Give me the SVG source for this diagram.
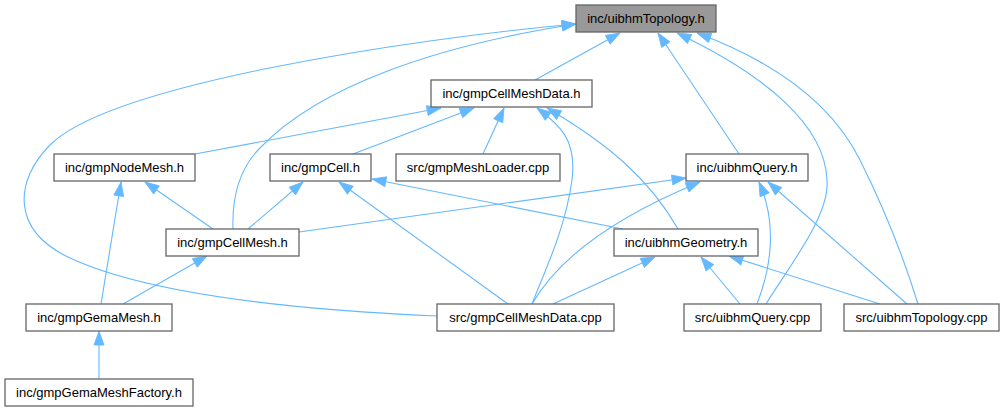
<svg xmlns="http://www.w3.org/2000/svg" width="1005" height="411" viewBox="0 0 1005 411">
<style>
.n rect{fill:#ffffff;stroke:#666666;stroke-width:1.3}
.n.hl rect{fill:#999999}
.n text{font-family:"Liberation Sans",Arial,sans-serif;font-size:13px;fill:#000000;text-anchor:middle}
#edges path{fill:none;stroke:#63b8ff;stroke-width:1.1;marker-end:url(#ah)}
</style>
<defs>
<marker id="ah" markerUnits="userSpaceOnUse" markerWidth="16" markerHeight="12" refX="14" refY="5" orient="auto" overflow="visible">
<path d="M0,0 L14,5 L0,10 Z" fill="#63b8ff" stroke="#63b8ff" stroke-width="0.8"/>
</marker>
</defs>
<rect x="0" y="0" width="1005" height="411" fill="#ffffff"/>
<g id="edges">
<path d="M535,80 L620,33"/>
<path d="M739,154 L658,33"/>
<path d="M766,304 C790,265 830,215 827,180 C825,125 765,75 677,33"/>
<path d="M918,304 C905,262 885,210 860,160 C830,100 770,60 697,33"/>
<path d="M233,229 C232,200 238,170 260,148 C320,85 440,45 576,24"/>
<path d="M437,316 C300,310 150,295 70,258 C10,230 15,180 50,145 C110,85 400,40 576,24"/>
<path d="M195,154 L441,108"/>
<path d="M353,154 L474,108"/>
<path d="M483,154 L504,108"/>
<path d="M532,304 C545,270 565,230 572,180 C577,140 560,125 537,108"/>
<path d="M678,229 C650,180 610,145 547,108"/>
<path d="M101,304 L121,182"/>
<path d="M213,229 L145,182"/>
<path d="M248,229 L303,182"/>
<path d="M508,304 L339,182"/>
<path d="M623,229 L372,179"/>
<path d="M299,232 L686,178"/>
<path d="M532,304 C560,255 620,215 700,182"/>
<path d="M757,304 C770,270 778,225 759,182"/>
<path d="M907,304 L768,182"/>
<path d="M553,304 L655,257"/>
<path d="M740,304 L701,257"/>
<path d="M880,304 L729,256"/>
<path d="M123,304 L207,256"/>
<path d="M99,379 L99,331"/>
</g>
<g id="n_top" class="n hl"><rect x="576" y="5" width="140" height="27"/><text x="646" y="23">inc/uibhmTopology.h</text></g>
<g id="n_cmd" class="n"><rect x="431" y="80" width="161" height="27"/><text x="511.5" y="98">inc/gmpCellMeshData.h</text></g>
<g id="n_node" class="n"><rect x="54" y="154" width="141" height="27"/><text x="124.5" y="172">inc/gmpNodeMesh.h</text></g>
<g id="n_cell" class="n"><rect x="270" y="154" width="101" height="27"/><text x="320.5" y="172">inc/gmpCell.h</text></g>
<g id="n_loader" class="n"><rect x="396" y="154" width="164" height="27"/><text x="478" y="172">src/gmpMeshLoader.cpp</text></g>
<g id="n_query" class="n"><rect x="686" y="154" width="122" height="27"/><text x="747" y="172">inc/uibhmQuery.h</text></g>
<g id="n_cmesh" class="n"><rect x="166" y="229" width="133" height="27"/><text x="232.5" y="247">inc/gmpCellMesh.h</text></g>
<g id="n_geom" class="n"><rect x="614" y="229" width="144" height="27"/><text x="686" y="247">inc/uibhmGeometry.h</text></g>
<g id="n_gema" class="n"><rect x="26" y="304" width="146" height="27"/><text x="99" y="322">inc/gmpGemaMesh.h</text></g>
<g id="n_cmdcpp" class="n"><rect x="437" y="304" width="177" height="27"/><text x="525.5" y="322">src/gmpCellMeshData.cpp</text></g>
<g id="n_qcpp" class="n"><rect x="684" y="304" width="137" height="27"/><text x="752.5" y="322">src/uibhmQuery.cpp</text></g>
<g id="n_tcpp" class="n"><rect x="844" y="304" width="155" height="27"/><text x="921.5" y="322">src/uibhmTopology.cpp</text></g>
<g id="n_fact" class="n"><rect x="5" y="379" width="188" height="27"/><text x="99" y="397">inc/gmpGemaMeshFactory.h</text></g>
</svg>
